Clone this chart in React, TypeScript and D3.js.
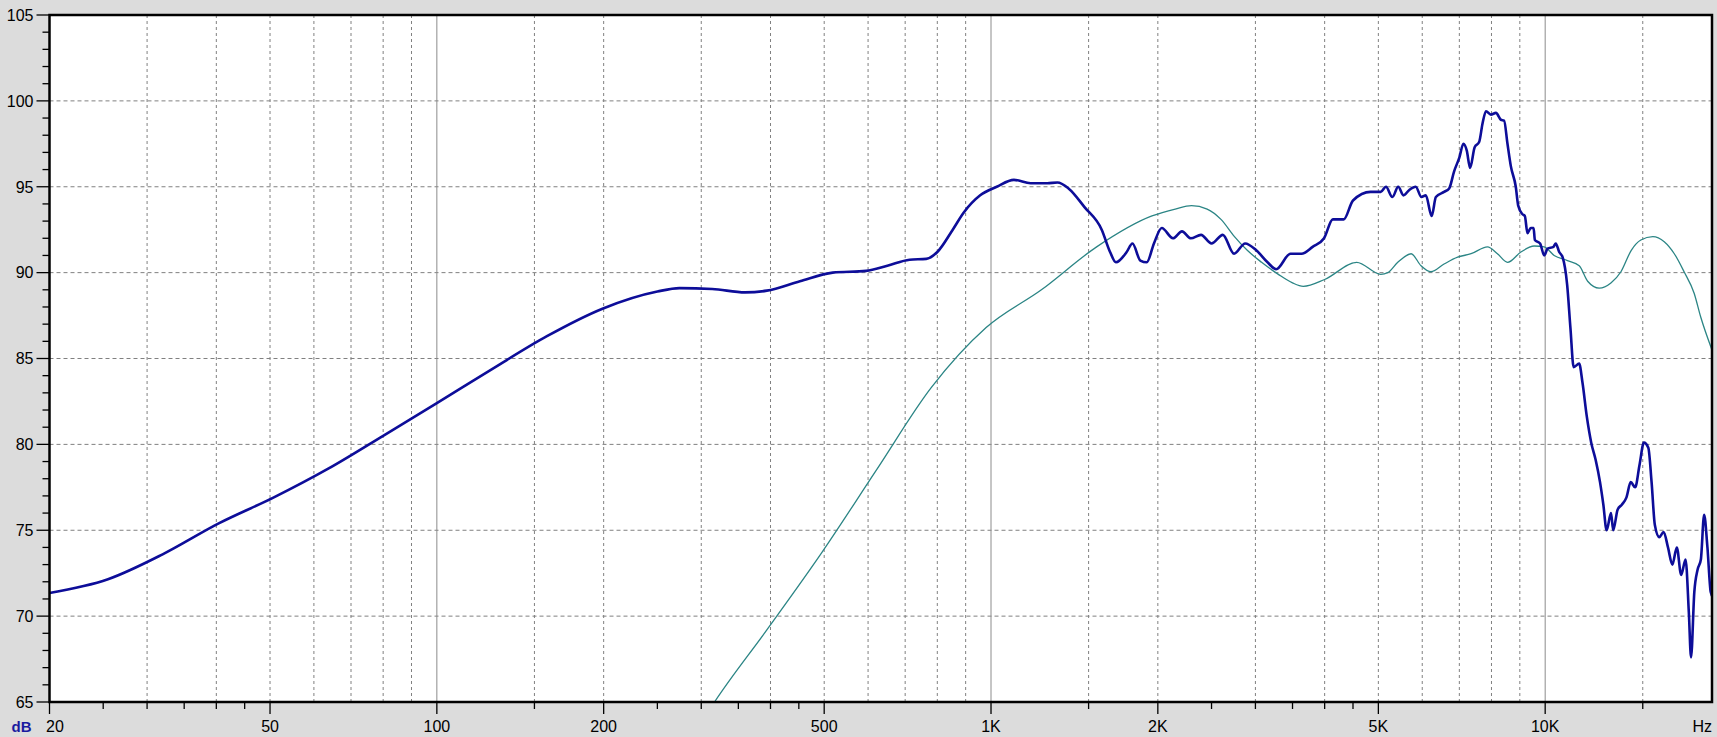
import React from "react";
import * as d3 from "d3";

// ---- data ----
const blueFreq = [20, 25.5, 32, 40.4, 50.7, 63.8, 80, 100, 126, 158, 199, 250, 274, 314, 360, 394, 452, 518, 595, 650, 713, 764, 800, 853, 893, 956, 1024, 1100, 1179, 1263, 1318, 1380, 1476, 1584, 1640, 1680, 1757, 1800, 1860, 1910, 1968, 2033, 2130, 2211, 2294, 2393, 2500, 2620, 2745, 2875, 3010, 3155, 3270, 3470, 3633, 3805, 3990, 4138, 4330, 4500, 4840, 5050, 5160, 5300, 5430, 5550, 5680, 5840, 5980, 6090, 6240, 6350, 6570, 6710, 6850, 7000, 7120, 7220, 7320, 7460, 7600, 7710, 7820, 7980, 8150, 8320, 8430, 8550, 8670, 8850, 8940, 9100, 9190, 9290, 9420, 9530, 9580, 9790, 9960, 10100, 10350, 10450, 10600, 10750, 10955, 11105, 11257, 11516, 11676, 11891, 12109, 12332, 12559, 12733, 12908, 13145, 13267, 13511, 13759, 14012, 14270, 14532, 14799, 15071, 15350, 15560, 15773, 16063, 16358, 16658, 16966, 17278, 17596, 17919, 18166, 18332, 18583, 18836, 19096, 19357, 19624, 19893, 20077];
const blueDb = [71.35, 72.15, 73.6, 75.4, 76.9, 78.6, 80.5, 82.4, 84.4, 86.3, 87.9, 88.9, 89.1, 89.05, 88.85, 88.95, 89.5, 90.0, 90.1, 90.4, 90.75, 90.8, 91.2, 92.5, 93.5, 94.5, 95.0, 95.4, 95.2, 95.2, 95.25, 94.9, 93.8, 92.5, 91.2, 90.6, 91.2, 91.7, 90.7, 90.6, 91.7, 92.6, 92.0, 92.4, 92.0, 92.2, 91.7, 92.2, 91.1, 91.7, 91.3, 90.6, 90.2, 91.1, 91.1, 91.5, 92.0, 93.1, 93.1, 94.2, 94.7, 94.7, 95.0, 94.4, 95.0, 94.5, 94.8, 95.0, 94.4, 94.5, 93.3, 94.4, 94.7, 94.9, 95.9, 96.7, 97.5, 97.1, 96.1, 97.3, 97.6, 98.7, 99.4, 99.2, 99.3, 98.9, 98.85, 97.5, 96.2, 95.0, 93.9, 93.4, 93.3, 92.3, 92.6, 92.6, 91.9, 91.7, 91.0, 91.4, 91.5, 91.7, 91.2, 90.9, 89.3, 86.8, 84.5, 84.7, 83.6, 81.6, 80.1, 79.1, 77.8, 76.5, 75.0, 76.0, 75.0, 76.2, 76.5, 76.9, 77.8, 77.5, 78.8, 80.1, 79.8, 77.8, 75.3, 74.6, 74.9, 74.0, 73.0, 74.0, 72.4, 73.3, 70.2, 67.6, 71.4, 72.7, 73.3, 75.9, 74.0, 71.4, 71.1];

const tealFreq = [300, 317, 394, 495, 621, 780, 980, 1233, 1551, 1952, 2150, 2300, 2455, 2600, 2750, 2900, 3078, 3300, 3500, 3660, 4000, 4570, 5050, 5200, 5420, 5730, 5970, 6220, 6570, 6950, 7350, 7870, 8200, 8550, 9040, 9550, 9960, 10380, 10970, 11520, 11930, 12520, 13140, 13700, 14300, 14880, 15640, 16400, 17100, 17810, 18570, 19090, 20000];
const tealDb = [63.8, 65.0, 69.2, 73.7, 78.5, 83.3, 86.8, 89.0, 91.5, 93.3, 93.7, 93.9, 93.7, 93.1, 92.1, 91.3, 90.6, 89.9, 89.4, 89.2, 89.6, 90.6, 89.9, 90.0, 90.6, 91.1, 90.4, 90.05, 90.5, 90.9, 91.1, 91.5, 91.1, 90.6, 91.2, 91.55, 91.5, 91.0, 90.7, 90.4, 89.5, 89.1, 89.4, 90.05, 91.3, 91.9, 92.1, 91.8, 91.1, 90.05, 88.8, 87.4, 85.5];

const yTicks = [65, 70, 75, 80, 85, 90, 95, 100, 105];
const xLabelValues = [20, 50, 100, 200, 500, 1000, 2000, 5000, 10000];
const xLabelTexts = ["20", "50", "100", "200", "500", "1K", "2K", "5K", "10K"];
const xGridDashed = [30, 40, 50, 60, 70, 80, 90, 150, 200, 300, 400, 500, 600, 700, 800, 900, 1500, 2000, 3000, 4000, 5000, 6000, 7000, 8000, 9000, 15000];
const xGridSolid = [100, 1000, 10000];
const xShortTicks = [25, 30, 35, 40, 45, 150, 250, 300, 350, 400, 450, 1500, 2500, 3000, 3500, 4000, 4500, 15000];

// ---- layout ----
const W = 1717;
const H = 737;
const L = 49.5;
const R = 1712;
const T = 15;
const B = 702;

export default function App() {
  const x = d3.scaleLog().domain([20, 20000]).range([L, R]);
  const y = d3.scaleLinear().domain([65, 105]).range([B, T]);
  const smooth = d3
    .line<[number, number]>()
    .x((d) => x(d[0]))
    .y((d) => y(d[1]))
    .curve(d3.curveMonotoneX);
  const blue = smooth(blueFreq.map((f, i) => [f, blueDb[i]] as [number, number])) || "";
  const teal = smooth(tealFreq.map((f, i) => [f, tealDb[i]] as [number, number])) || "";
  const minorY = d3.range(65, 106, 1);
  const font = "Arial, 'Liberation Sans', sans-serif";

  return (
    <svg
      width={W}
      height={H}
      style={{ position: "fixed", left: 0, top: 0, display: "block" }}
      fontFamily={font}
    >
      <rect x={0} y={0} width={W} height={H} fill="#dcdcdc" />
      <rect x={L} y={T} width={R - L} height={B - T} fill="#ffffff" />
      <defs>
        <clipPath id="plot">
          <rect x={L} y={T} width={R - L} height={B - T} />
        </clipPath>
      </defs>
      {/* grid */}
      {yTicks.slice(1, -1).map((v) => (
        <line key={"hy" + v} x1={L} x2={R} y1={y(v)} y2={y(v)} stroke="#808080" strokeWidth={1} strokeDasharray="4,3" />
      ))}
      {xGridDashed.map((v) => (
        <line key={"gx" + v} x1={x(v)} x2={x(v)} y1={T} y2={B} stroke="#808080" strokeWidth={1} strokeDasharray="3,3" />
      ))}
      {xGridSolid.map((v) => (
        <line key={"sx" + v} x1={x(v)} x2={x(v)} y1={T} y2={B} stroke="#8c8c8c" strokeWidth={1} />
      ))}
      {/* curves */}
      <g clipPath="url(#plot)">
        <path d={teal} fill="none" stroke="#2b8585" strokeWidth={1.3} />
        <path d={blue} fill="none" stroke="#0d0d99" strokeWidth={2.6} strokeLinejoin="round" />
      </g>
      {/* frame */}
      <rect x={L} y={T} width={R - L} height={B - T} fill="none" stroke="#000" strokeWidth={2.5} />
      {/* y ticks */}
      {minorY.map((v) => (
        <line
          key={"ty" + v}
          x1={v % 5 === 0 ? L - 13 : L - 7}
          x2={L}
          y1={y(v)}
          y2={y(v)}
          stroke="#000"
          strokeWidth={1.3}
        />
      ))}
      {yTicks.map((v) => (
        <text key={"ly" + v} x={33.5} y={y(v)} dy="0.36em" textAnchor="end" fontSize={16} fill="#000">
          {v}
        </text>
      ))}
      {/* x ticks */}
      {xShortTicks.map((v) => (
        <line key={"tx" + v} x1={x(v)} x2={x(v)} y1={B} y2={B + 7} stroke="#000" strokeWidth={1.3} />
      ))}
      {xLabelValues.map((v) => (
        <line key={"lt" + v} x1={x(v)} x2={x(v)} y1={B} y2={B + 12} stroke="#000" strokeWidth={1.3} />
      ))}
      {xLabelValues.map((v, i) => (
        <text
          key={"lx" + v}
          x={i === 0 ? x(v) - 3.5 : x(v)}
          y={731.5}
          textAnchor={i === 0 ? "start" : "middle"}
          fontSize={16}
          fill="#000"
        >
          {xLabelTexts[i]}
        </text>
      ))}
      <text x={11.5} y={731.5} fontSize={15} fontWeight="bold" fill="#1a1aa0">
        dB
      </text>
      <text x={1712} y={731.5} textAnchor="end" fontSize={16} fill="#000">
        Hz
      </text>
    </svg>
  );
}
